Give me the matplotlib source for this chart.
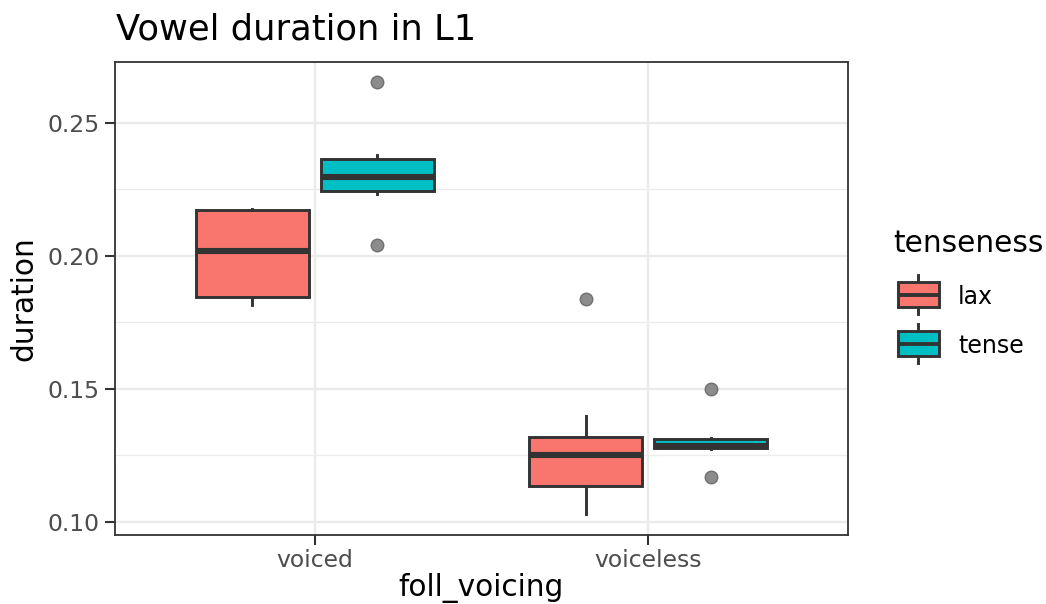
import matplotlib
matplotlib.use("Agg")
import matplotlib.pyplot as plt
from matplotlib.patches import Rectangle
from matplotlib.lines import Line2D

# ---- data ----
categories = ["voiced", "voiceless"]
groups = ["lax", "tense"]
group_colors = ["#F8766D", "#00BFC4"]

# stats per (category, group): [voiced-lax, voiced-tense, voiceless-lax, voiceless-tense]
whislo = [0.1816, 0.2233, 0.1030, 0.1276]
q1     = [0.1846, 0.2244, 0.1135, 0.1278]
med    = [0.2019, 0.2297, 0.1252, 0.1286]
q3     = [0.2173, 0.2365, 0.1320, 0.1312]
whishi = [0.2177, 0.2378, 0.1398, 0.1316]
fliers = [[], [0.2654, 0.2041], [0.1838], [0.1500, 0.1169]]

yticks = [0.10, 0.15, 0.20, 0.25]
yminor = [0.125, 0.175, 0.225]

W, H = 1046, 604
fig = plt.figure(figsize=(W / 100, H / 100), dpi=100)
ax = fig.add_axes([115 / W, 1 - 535 / H, (848 - 115) / W, (535 - 62) / H])

dodge = 0.1875
bw = 0.3375
stats, positions, colors = [], [], []
k = 0
for ci, cat in enumerate(categories):
    for gi, g in enumerate(groups):
        stats.append(dict(whislo=whislo[k], q1=q1[k], med=med[k], q3=q3[k],
                          whishi=whishi[k], fliers=fliers[k]))
        positions.append(ci + 1 + (gi - 0.5) * 2 * dodge)
        colors.append(group_colors[gi])
        k += 1

edge = "#333333"
bp = ax.bxp(stats, positions=positions, widths=bw, patch_artist=True,
            showcaps=False, manage_ticks=False,
            boxprops=dict(edgecolor=edge, linewidth=2.1),
            whiskerprops=dict(color=edge, linewidth=2.1),
            medianprops=dict(color=edge, linewidth=4.4, solid_capstyle="butt"),
            flierprops=dict(marker="o", markerfacecolor="#8C8C8C",
                            markeredgecolor="#707070", markeredgewidth=1.0,
                            markersize=9, linestyle="none"))
for patch, c in zip(bp["boxes"], colors):
    patch.set_facecolor(c)
for b in bp["boxes"]:
    b.set_zorder(3)
for m in bp["medians"]:
    m.set_zorder(4)

ax.set_xlim(0.4, 2.6)
ax.set_ylim(0.0951, 0.2729)
ax.set_xticks([1, 2])
ax.set_xticklabels(categories)
ax.set_yticks(yticks)
ax.set_yticklabels([f"{t:.2f}" for t in yticks])
ax.set_yticks(yminor, minor=True)
ax.tick_params(axis="both", which="major", length=7, width=1.5, color=edge,
               labelsize=16.9, labelcolor="#4D4D4D", pad=4)
ax.tick_params(axis="x", which="major", pad=3)
ax.tick_params(axis="y", which="minor", length=0)
ax.grid(True, which="major", color="#EBEBEB", linewidth=1.7)
ax.grid(True, which="minor", axis="y", color="#EBEBEB", linewidth=0.9)
ax.set_axisbelow(True)
for s in ax.spines.values():
    s.set_color(edge)
    s.set_linewidth(1.3)

ax.set_ylabel("duration", fontsize=21.3, labelpad=7)
fig.text((115 + 848) / 2 / W, 1 - 596 / H, "foll_voicing", fontsize=21.3,
         ha="center", va="baseline")
fig.text(116 / W, 1 - 39 / H, "Vowel duration in L1", fontsize=25.4,
         ha="left", va="baseline")

# ---- legend (drawn in pixel coordinates) ----
lg = fig.add_axes([0, 0, 1, 1])
lg.set_xlim(0, W)
lg.set_ylim(H, 0)
lg.axis("off")
lg.text(893, 252, "tenseness", fontsize=21.3, ha="left", va="baseline")
key_tops = [282, 331]
for gi, g in enumerate(groups):
    top = key_tops[gi]
    bot = top + 25
    cx = 918
    lg.add_line(Line2D([cx, cx], [top - 7, bot + 7], color=edge, lw=2.1, zorder=1))
    lg.add_patch(Rectangle((898, top), 41, bot - top, facecolor=group_colors[gi],
                           edgecolor=edge, lw=2.1, zorder=2))
    lg.add_line(Line2D([898, 939], [(top + bot) / 2] * 2, color=edge, lw=2.8,
                       zorder=3, solid_capstyle="butt"))
    lg.text(958, (top + bot) / 2, g, fontsize=17, ha="left", va="center_baseline")

fig.savefig("out.png", dpi=100)
